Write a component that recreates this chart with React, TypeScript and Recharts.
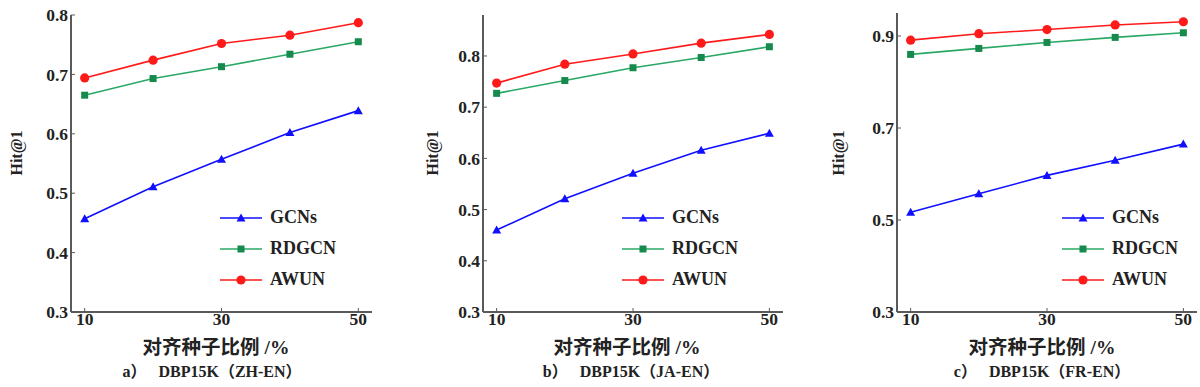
import React from 'react';
import { LineChart, Line, XAxis, YAxis, Legend } from 'recharts';

const seedRatios = [10, 20, 30, 40, 50];
const xTicks = [10, 30, 50];

const gcnsZh = [0.457, 0.511, 0.557, 0.602, 0.639];
const rdgcnZh = [0.665, 0.693, 0.713, 0.734, 0.755];
const awunZh = [0.694, 0.724, 0.752, 0.766, 0.787];

const gcnsJa = [0.46, 0.521, 0.571, 0.616, 0.649];
const rdgcnJa = [0.727, 0.752, 0.777, 0.797, 0.818];
const awunJa = [0.747, 0.784, 0.804, 0.825, 0.842];

const gcnsFr = [0.517, 0.557, 0.597, 0.63, 0.665];
const rdgcnFr = [0.86, 0.873, 0.886, 0.897, 0.907];
const awunFr = [0.891, 0.905, 0.914, 0.924, 0.931];

const yTicksA = [0.3, 0.4, 0.5, 0.6, 0.7, 0.8];
const yTicksB = [0.3, 0.4, 0.5, 0.6, 0.7, 0.8];
const yTicksC = [0.3, 0.5, 0.7, 0.9];

const seriesNames = ['GCNs', 'RDGCN', 'AWUN'];
const xTitle = '对齐种子比例 /%';
const yTitle = 'Hit@1';

const SERIF = '"Liberation Serif", "Noto Sans CJK SC", serif';
const BLUE = '#1010ff';
const GREEN = '#2aa865';
const GREEN_DOT = '#158a4c';
const RED = '#ff1a1a';
const AXIS = '#5a5a5a';

const Triangle = ({ cx, cy, color }: any) => (
  <polygon
    points={`${cx},${cy - 4.5} ${cx - 4.5},${cy + 3.5} ${cx + 4.5},${cy + 3.5}`}
    fill={color}
  />
);
const Square = ({ cx, cy, color }: any) => (
  <rect x={cx - 3.5} y={cy - 3.5} width={7} height={7} fill={color} />
);
const Dot = ({ cx, cy, color }: any) => <circle cx={cx} cy={cy} r={4.6} fill={color} />;

const markers = [
  { color: BLUE, dotColor: BLUE, Shape: Triangle },
  { color: GREEN, dotColor: GREEN_DOT, Shape: Square },
  { color: RED, dotColor: RED, Shape: Dot },
];

const LegendBox = () => (
  <div style={{ fontFamily: SERIF, fontWeight: 'bold', fontSize: 18, color: '#222' }}>
    {seriesNames.map((name, i) => {
      const { color, dotColor, Shape } = markers[i];
      return (
        <div key={name} style={{ display: 'flex', alignItems: 'center', height: 31 }}>
          <svg width={50} height={14}>
            <line x1={0} y1={7} x2={42} y2={7} stroke={color} strokeWidth={1.5} />
            <Shape cx={21} cy={7} color={dotColor} />
          </svg>
          <span>{name}</span>
        </div>
      );
    })}
  </div>
);

interface PanelProps {
  left: number;
  marginLeft: number;
  marginRight: number;
  marginTop: number;
  domain: [number, number];
  yTicks: number[];
  gcns: number[];
  rdgcn: number[];
  awun: number[];
  legendLeft: number;
  yTitleX: number;
  xTitleX: number;
  caption: string;
  captionX: number;
}

const Panel: React.FC<PanelProps> = (p) => {
  const data = seedRatios.map((r, i) => ({
    ratio: r,
    GCNs: p.gcns[i],
    RDGCN: p.rdgcn[i],
    AWUN: p.awun[i],
  }));
  const tickStyle = { fontFamily: SERIF, fontWeight: 'bold', fontSize: 17.5, fill: '#222' };
  return (
    <div style={{ position: 'absolute', left: p.left, top: 0, width: 400, height: 387 }}>
      <LineChart
        width={400}
        height={387}
        data={data}
        margin={{ top: p.marginTop, right: p.marginRight, left: p.marginLeft, bottom: 45 }}
      >
        <XAxis
          dataKey="ratio"
          type="number"
          domain={[8, 52]}
          ticks={xTicks}
          height={30}
          tick={tickStyle}
          tickSize={-4}
          tickMargin={5}
          axisLine={{ stroke: AXIS, strokeWidth: 2 }}
          tickLine={{ stroke: AXIS }}
        />
        <YAxis
          type="number"
          domain={p.domain}
          ticks={p.yTicks}
          width={60}
          allowDataOverflow
          tick={tickStyle}
          tickSize={-4}
          tickMargin={7}
          tickFormatter={(v) => v.toFixed(1)}
          axisLine={{ stroke: AXIS, strokeWidth: 2 }}
          tickLine={{ stroke: AXIS }}
        />
        <Legend
          layout="vertical"
          align="center"
          verticalAlign="middle"
          content={() => <LegendBox />}
          wrapperStyle={{ left: p.legendLeft, top: 202, width: 150 }}
        />
        {seriesNames.map((name, i) => {
          const { color, dotColor, Shape } = markers[i];
          return (
            <Line
              key={name}
              dataKey={name}
              type="linear"
              stroke={color}
              strokeWidth={1.6}
              dot={(d: any) => <Shape key={d.index} cx={d.cx} cy={d.cy} color={dotColor} />}
              activeDot={false}
              isAnimationActive={false}
            />
          );
        })}
      </LineChart>
      <div
        style={{
          position: 'absolute',
          left: p.yTitleX,
          top: 153,
          transform: 'translate(-50%, -50%) rotate(-90deg)',
          fontFamily: SERIF,
          fontWeight: 'bold',
          fontSize: 16,
          color: '#222',
          whiteSpace: 'nowrap',
        }}
      >
        {yTitle}
      </div>
      <div
        style={{
          position: 'absolute',
          left: p.xTitleX,
          top: 345,
          transform: 'translate(-50%, -50%)',
          fontFamily: SERIF,
          fontWeight: 'bold',
          fontSize: 19.5,
          color: '#222',
          whiteSpace: 'nowrap',
        }}
      >
        {xTitle}
      </div>
      <div
        style={{
          position: 'absolute',
          left: p.captionX,
          top: 370,
          transform: 'translate(-50%, -50%)',
          fontFamily: SERIF,
          fontWeight: 'bold',
          fontSize: 16,
          color: '#222',
          whiteSpace: 'pre',
        }}
      >
        {p.caption}
      </div>
    </div>
  );
};

export default function App() {
  return (
    <div
      style={{ position: 'absolute', left: 0, top: 0, width: 1200, height: 387, background: '#fff' }}
    >
      <Panel
        left={0}
        marginLeft={11}
        marginRight={28}
        marginTop={15}
        domain={[0.3, 0.8]}
        yTicks={yTicksA}
        gcns={gcnsZh}
        rdgcn={rdgcnZh}
        awun={awunZh}
        legendLeft={220}
        yTitleX={17}
        xTitleX={216}
        caption={'a）   DBP15K（ZH-EN）'}
        captionX={212}
      />
      <Panel
        left={400}
        marginLeft={23}
        marginRight={17}
        marginTop={15}
        domain={[0.3, 0.88]}
        yTicks={yTicksB}
        gcns={gcnsJa}
        rdgcn={rdgcnJa}
        awun={awunJa}
        legendLeft={222}
        yTitleX={33}
        xTitleX={227}
        caption={'b）   DBP15K（JA-EN）'}
        captionX={231}
      />
      <Panel
        left={800}
        marginLeft={37}
        marginRight={3}
        marginTop={13}
        domain={[0.3, 0.95]}
        yTicks={yTicksC}
        gcns={gcnsFr}
        rdgcn={rdgcnFr}
        awun={awunFr}
        legendLeft={262}
        yTitleX={39}
        xTitleX={242}
        caption={'c）   DBP15K（FR-EN）'}
        captionX={242}
      />
    </div>
  );
}
